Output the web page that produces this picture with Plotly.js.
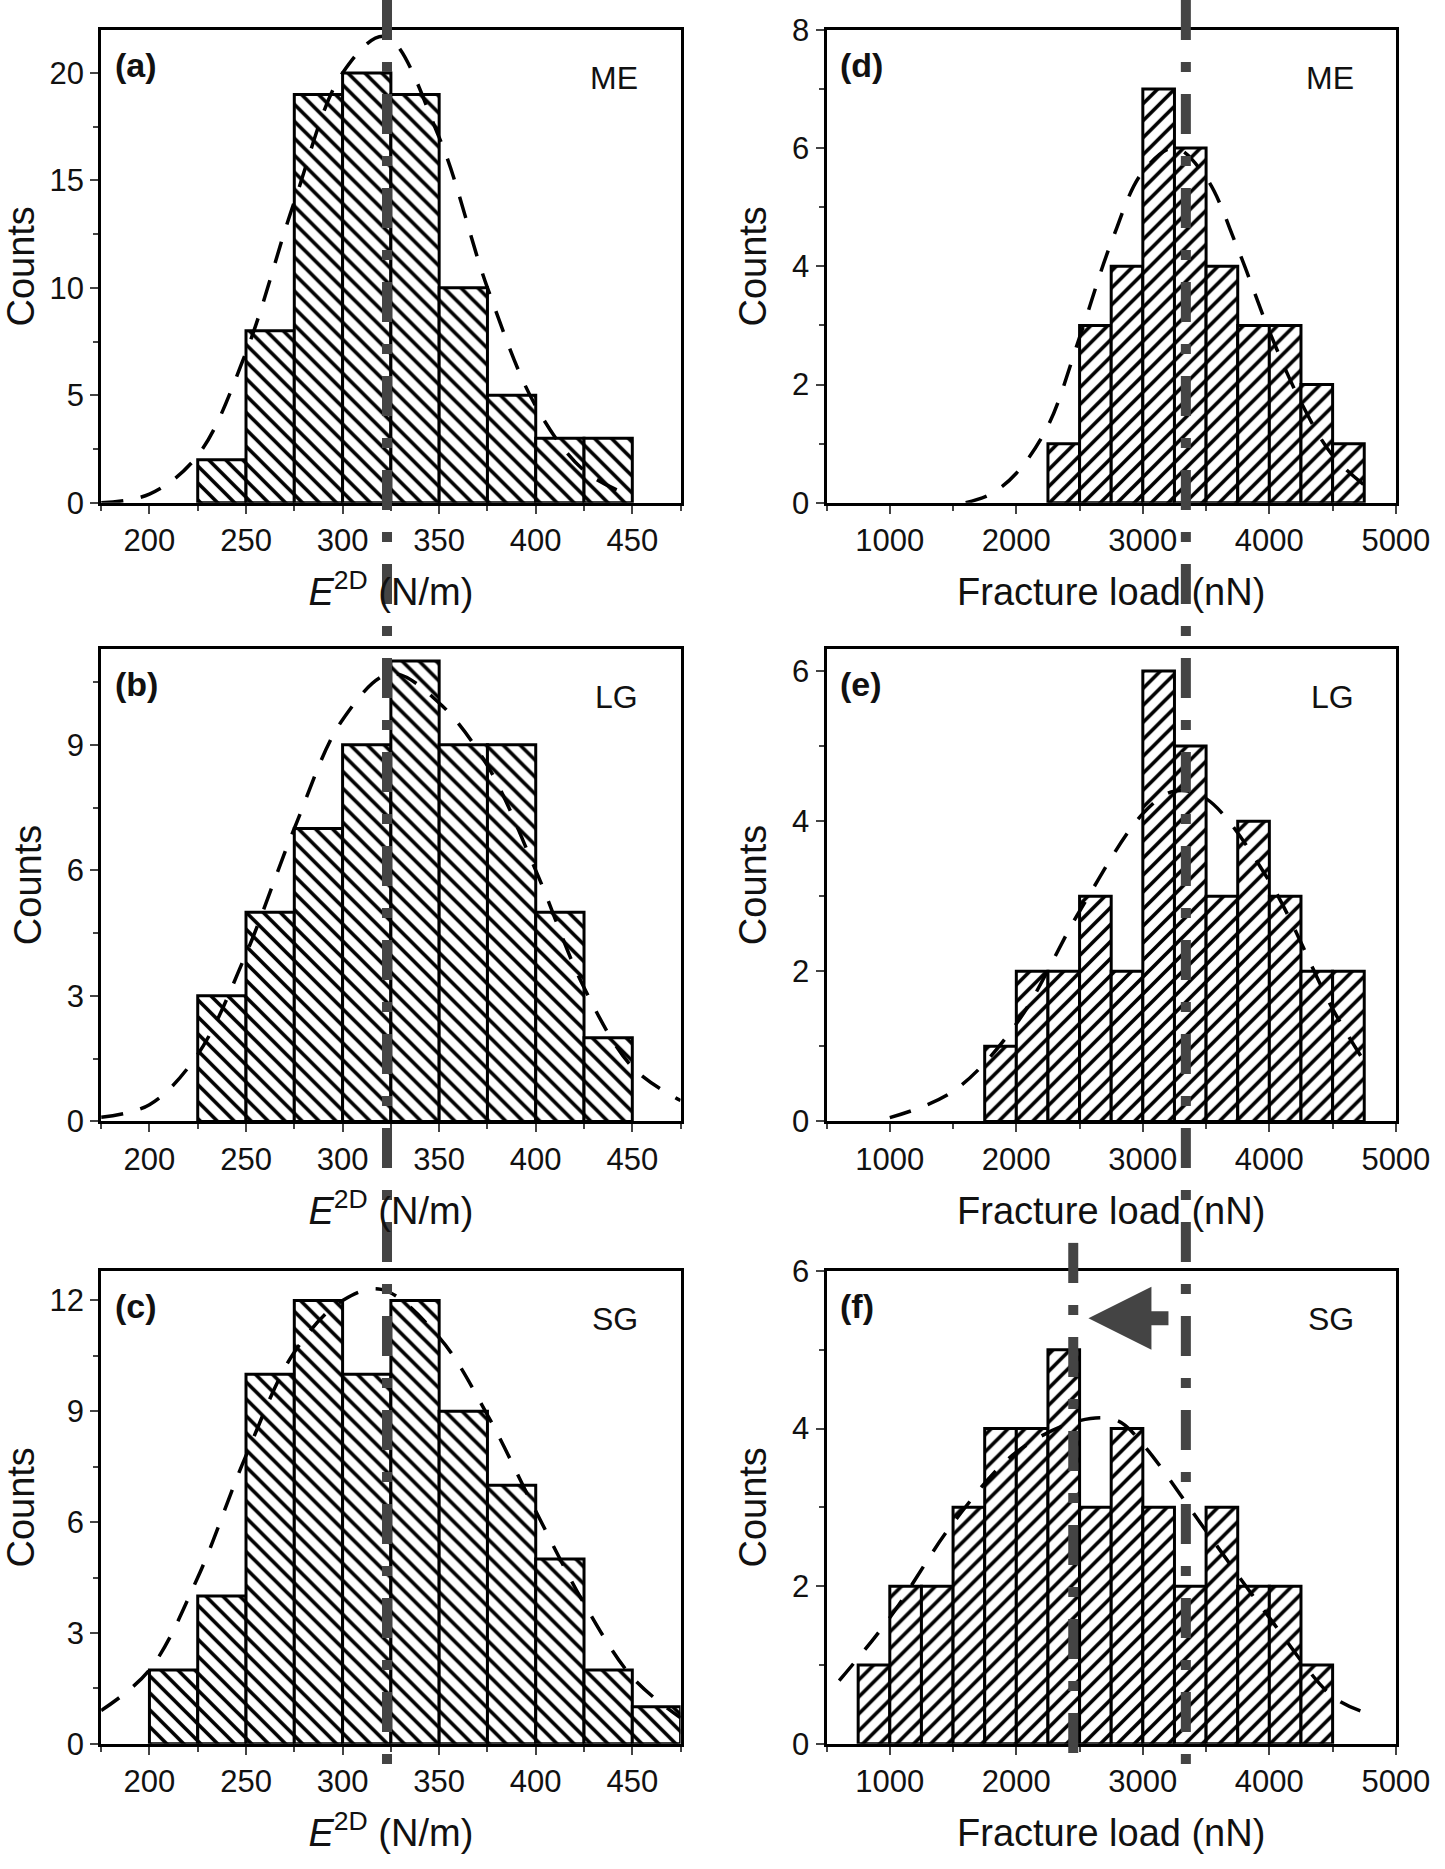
<!DOCTYPE html>
<html>
<head>
<script src="https://cdn.plot.ly/plotly-3.0.1.min.js"></script>
<style>body{margin:0;background:#fff}</style>
</head>
<body>
<div id="mydiv" style="width:1445px;height:1869px"></div>
<script>
// E2D histograms (bin width 25, left edges)
var eBins = [200, 225, 250, 275, 300, 325, 350, 375, 400, 425, 450];
var countsA = [null, 2, 8, 19, 20, 19, 10, 5, 3, 3, null];
var countsB = [null, 3, 5, 7, 9, 11, 9, 9, 5, 2, null];
var countsC = [2, 4, 10, 12, 10, 12, 9, 7, 5, 2, 1];
// fracture load histograms (bin width 250, left edges)
var fBins = [750, 1000, 1250, 1500, 1750, 2000, 2250, 2500, 2750, 3000, 3250, 3500, 3750, 4000, 4250, 4500];
var countsD = [null, null, null, null, null, null, 1, 3, 4, 7, 6, 4, 3, 3, 2, 1];
var countsE = [null, null, null, null, 1, 2, 2, 3, 2, 6, 5, 3, 4, 3, 2, 2];
var countsF = [1, 2, 2, 3, 4, 4, 5, 3, 4, 3, 2, 3, 2, 2, 1, null];
// dashed fit curves
var fitAx = [175, 200, 225, 250, 275, 300, 322, 350, 375, 400, 425, 450];
var fitAy = [0, 0.4, 2.2, 7, 14, 20, 21.7, 17, 10, 4.5, 1.5, 0.3];
var fitBx = [175, 200, 225, 250, 275, 300, 325, 350, 375, 400, 425, 450, 475];
var fitBy = [0.1, 0.4, 1.6, 4, 7, 9.6, 10.7, 10, 8.5, 6, 3.2, 1.3, 0.5];
var fitCx = [175, 200, 225, 250, 275, 300, 320, 350, 375, 400, 425, 450, 475];
var fitCy = [0.9, 2, 4.5, 7.8, 10.6, 12, 12.3, 11, 8.9, 6.3, 3.8, 1.8, 0.7];
var fitDx = [1600, 1800, 2000, 2250, 2500, 2750, 3000, 3250, 3500, 3750, 4000, 4250, 4500, 4750];
var fitDy = [0, 0.15, 0.5, 1.3, 2.8, 4.4, 5.6, 6.0, 5.5, 4.3, 2.9, 1.7, 0.8, 0.3];
var fitEx = [1000, 1500, 2000, 2500, 3000, 3250, 3500, 4000, 4500, 4750];
var fitEy = [0.05, 0.4, 1.3, 2.8, 4.1, 4.4, 4.3, 3.2, 1.5, 0.8];
var fitFx = [600, 1000, 1500, 2000, 2500, 2800, 3000, 3500, 4000, 4500, 4750];
var fitFy = [0.8, 1.6, 2.8, 3.7, 4.1, 4.1, 3.8, 2.7, 1.6, 0.6, 0.4];

var panels = [
  {k:'', bins:eBins, w:25, c:countsA, fx:fitAx, fy:fitAy, hatch:'\\', lab:'(a)', tag:'ME', y:[0,22], dt:5, yd:[0.731,0.984], xd:[0.070,0.471], xr:[175,475]},
  {k:'2', bins:eBins, w:25, c:countsB, fx:fitBx, fy:fitBy, hatch:'\\', lab:'(b)', tag:'LG', y:[0,11.3], dt:3, yd:[0.400,0.653], xd:[0.070,0.471], xr:[175,475]},
  {k:'3', bins:eBins, w:25, c:countsC, fx:fitCx, fy:fitCy, hatch:'\\', lab:'(c)', tag:'SG', y:[0,12.8], dt:3, yd:[0.067,0.320], xd:[0.070,0.471], xr:[175,475]},
  {k:'4', bins:fBins, w:250, c:countsD, fx:fitDx, fy:fitDy, hatch:'/', lab:'(d)', tag:'ME', y:[0,8], dt:2, yd:[0.731,0.984], xd:[0.572,0.966], xr:[500,5000]},
  {k:'5', bins:fBins, w:250, c:countsE, fx:fitEx, fy:fitEy, hatch:'/', lab:'(e)', tag:'LG', y:[0,6.3], dt:2, yd:[0.400,0.653], xd:[0.572,0.966], xr:[500,5000]},
  {k:'6', bins:fBins, w:250, c:countsF, fx:fitFx, fy:fitFy, hatch:'/', lab:'(f)', tag:'SG', y:[0,6], dt:2, yd:[0.067,0.320], xd:[0.572,0.966], xr:[500,5000]}
];

var font = {family:'Liberation Sans, Arial, sans-serif', color:'#111', size:32};
var data = [], annotations = [], shapes = [];
var layout = {width:1445, height:1869, margin:{l:0,r:0,t:0,b:0}, showlegend:false,
  paper_bgcolor:'#fff', plot_bgcolor:'#fff', font:font, bargap:0};

panels.forEach(function(p){
  var xa = 'x'+p.k, ya = 'y'+p.k;
  var mid = p.bins.map(function(b){ return b + p.w/2; });
  data.push({type:'bar', x:mid, y:p.c, width:p.w, xaxis:xa, yaxis:ya,
    marker:{color:'#fff', line:{color:'#000', width:3},
      pattern:{shape:p.hatch, fgcolor:'#000', bgcolor:'#fff', size:12, solidity:0.3}}});
  data.push({type:'scatter', mode:'lines', x:p.fx, y:p.fy, xaxis:xa, yaxis:ya,
    line:{color:'#000', width:3.5, dash:'22px,18px', shape:'spline'}});
  var isE = p.xr[1] < 1000;
  layout['xaxis'+p.k] = {domain:p.xd, range:p.xr, anchor:ya, showgrid:false, zeroline:false,
    showline:true, mirror:true, linecolor:'#000', linewidth:3, ticks:'outside', ticklen:8, tickwidth:2,
    dtick: isE ? 50 : 1000, tick0:0,
    minor:{dtick: isE ? 25 : 500, ticks:'outside', ticklen:5, tickwidth:2},
    tickfont:{size:31},
    title:{text: isE ? '<i>E</i><sup>2D</sup> (N/m)' : 'Fracture load (nN)', font:{size:38}, standoff:22}};
  layout['yaxis'+p.k] = {domain:p.yd, range:p.y, anchor:xa, showgrid:false, zeroline:false,
    showline:true, mirror:true, linecolor:'#000', linewidth:3, ticks:'outside', ticklen:8, tickwidth:2,
    dtick:p.dt, minor:{dtick:p.dt/2, ticks:'outside', ticklen:5, tickwidth:2},
    tickfont:{size:31}, title:{text:'Counts', font:{size:38}, standoff:14}};
  annotations.push({xref:xa+' domain', yref:ya+' domain', x:0.02, y:0.97, xanchor:'left', yanchor:'top',
    text:'<b>'+p.lab+'</b>', showarrow:false, font:{size:34}});
  annotations.push({xref:xa+' domain', yref:ya+' domain', x:0.93, y:0.94, xanchor:'right', yanchor:'top',
    text:p.tag, showarrow:false, font:{size:32}});
});

var guide = {color:'#444', width:10, dash:'40px,22px,10px,22px'};
shapes.push({type:'line', xref:'x', yref:'paper', x0:323, x1:323, y0:1.0, y1:0.055, line:guide, layer:'above'});
shapes.push({type:'line', xref:'x4', yref:'paper', x0:3340, x1:3340, y0:1.0, y1:0.055, line:guide, layer:'above'});
shapes.push({type:'line', xref:'x6', yref:'paper', x0:2450, x1:2450, y0:0.335, y1:0.055, line:guide, layer:'above'});
annotations.push({xref:'x6', yref:'y6', ax:3250, ay:5.4, axref:'x6', ayref:'y6', x:2570, y:5.4,
  showarrow:true, arrowhead:2, arrowsize:0.9, arrowwidth:14, arrowcolor:'#444', text:' '});
layout.annotations = annotations;
layout.shapes = shapes;

Plotly.newPlot('mydiv', data, layout, {displayModeBar:false, staticPlot:true});
</script>
</body>
</html>
